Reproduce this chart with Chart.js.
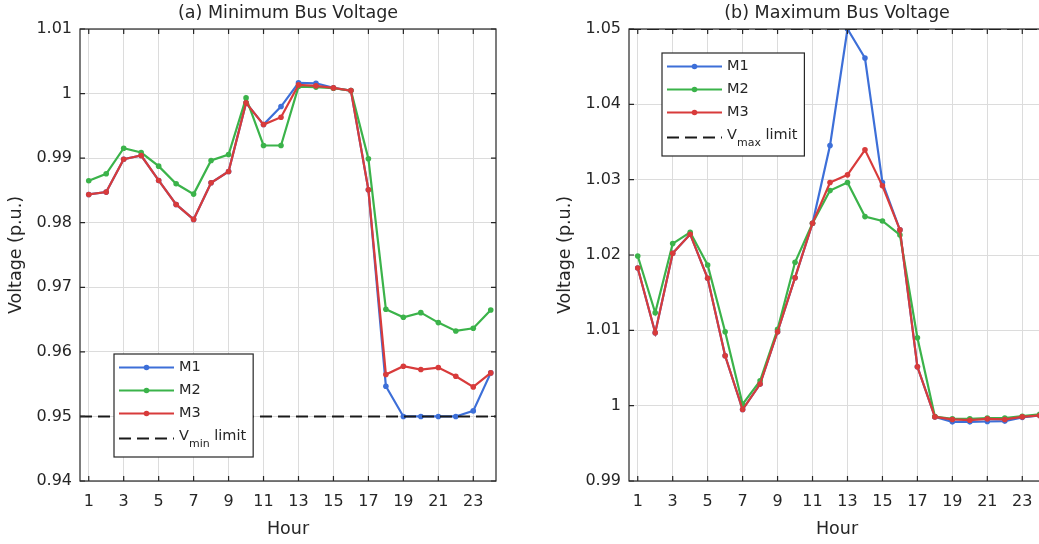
<!DOCTYPE html>
<html>
<head>
<meta charset="utf-8">
<title>Bus Voltage</title>
<script src="https://cdn.jsdelivr.net/npm/chart.js@4.4.1/dist/chart.umd.min.js"></script>
<style>
  html, body { margin: 0; padding: 0; background: #fff; overflow: hidden; }
  .panel { position: absolute; top: 0; width: 520px; height: 544px; }
  #panelA { left: 0; }
  #panelB { left: 549px; }
</style>
</head>
<body>
<div class="panel" id="panelA"><canvas id="chartA" width="520" height="544"></canvas></div>
<div class="panel" id="panelB"><canvas id="chartB" width="520" height="544"></canvas></div>
<script>
// hours of the day
const hours = [1, 2, 3, 4, 5, 6, 7, 8, 9, 10, 11, 12, 13, 14, 15, 16, 17, 18, 19, 20, 21, 22, 23, 24];
const hourTicks = [1, 3, 5, 7, 9, 11, 13, 15, 17, 19, 21, 23];
const hourRange = [0.5, 24.3];

// (a) minimum bus voltage, p.u.
const minM1 = [0.98438, 0.98474, 0.98984, 0.99041, 0.98654, 0.98283, 0.98051, 0.98619, 0.98793, 0.99856, 0.99520, 0.99799,
               1.00165, 1.00159, 1.00088, 1.00046, 0.98510, 0.95468, 0.95000, 0.95000, 0.95000, 0.95000, 0.95086, 0.95674];
const minM2 = [0.98650, 0.98758, 0.99154, 0.99087, 0.98876, 0.98603, 0.98443, 0.98964, 0.99056, 0.99933, 0.99196, 0.99196,
               1.00108, 1.00100, 1.00082, 1.00046, 0.98990, 0.96659, 0.96535, 0.96607, 0.96453, 0.96324, 0.96365, 0.96648];
const minM3 = [0.98438, 0.98474, 0.98984, 0.99041, 0.98654, 0.98283, 0.98051, 0.98619, 0.98793, 0.99856, 0.99520, 0.99634,
               1.00134, 1.00119, 1.00088, 1.00046, 0.98510, 0.95649, 0.95777, 0.95726, 0.95757, 0.95623, 0.95457, 0.95674];
const vMin = 0.95;
const minTicks = [0.94, 0.95, 0.96, 0.97, 0.98, 0.99, 1.00, 1.01];

// (b) maximum bus voltage, p.u.
const maxM1 = [1.01828, 1.00968, 1.02023, 1.02276, 1.01691, 1.00662, 0.99949, 1.00286, 1.00981, 1.01699, 1.02422, 1.03453,
               1.05000, 1.04615, 1.02962, 1.02333, 1.00516, 0.99851, 0.99785, 0.99785, 0.99790, 0.99795, 0.99845, 0.99870];
const maxM2 = [1.01987, 1.01234, 1.02151, 1.02302, 1.01868, 1.00981, 1.00020, 1.00330, 1.01013, 1.01903, 1.02422, 1.02855,
               1.02962, 1.02510, 1.02452, 1.02266, 1.00901, 0.99855, 0.99825, 0.99825, 0.99835, 0.99835, 0.99860, 0.99885];
const maxM3 = [1.01828, 1.00968, 1.02023, 1.02276, 1.01691, 1.00662, 0.99949, 1.00286, 1.00981, 1.01699, 1.02422, 1.02962,
               1.03064, 1.03396, 1.02918, 1.02333, 1.00516, 0.99851, 0.99817, 0.99807, 0.99825, 0.99817, 0.99851, 0.99870];
const vMax = 1.05;
const maxTicks = [0.99, 1.00, 1.01, 1.02, 1.03, 1.04, 1.05];

const seriesNames = ['M1', 'M2', 'M3'];
const seriesColors = ['#3d6fd8', '#3bb34a', '#d83b3b'];
const textColor = '#262626';
const axisColor = '#262626';
const gridColor = '#dcdcdc';
const fontFamily = '"DejaVu Sans", sans-serif';

const toPoints = vals => vals.map((v, i) => ({ x: hours[i], y: v }));

// box around the axes with inward ticks, like matlab "box on"
const frame = {
  id: 'frame',
  afterDatasetsDraw(chart) {
    const { ctx, chartArea: a, scales } = chart;
    const len = 5;
    ctx.save();
    ctx.strokeStyle = axisColor;
    ctx.lineWidth = 1.2;
    ctx.strokeRect(a.left, a.top, a.right - a.left, a.bottom - a.top);
    ctx.beginPath();
    scales.x.ticks.forEach(t => {
      const px = scales.x.getPixelForValue(t.value);
      ctx.moveTo(px, a.bottom); ctx.lineTo(px, a.bottom - len);
      ctx.moveTo(px, a.top); ctx.lineTo(px, a.top + len);
    });
    scales.y.ticks.forEach(t => {
      const py = scales.y.getPixelForValue(t.value);
      ctx.moveTo(a.left, py); ctx.lineTo(a.left + len, py);
      ctx.moveTo(a.right, py); ctx.lineTo(a.right - len, py);
    });
    ctx.stroke();
    ctx.restore();
  }
};

// legend box drawn inside the plot area
const boxLegend = {
  id: 'boxLegend',
  afterDraw(chart, args, opts) {
    const { ctx, chartArea: a } = chart;
    const x0 = a.left + opts.left;
    const y0 = a.top + opts.top;
    const rows = [13.5, 36.5, 59.5, 84.5];
    const mainFont = '14.5px ' + fontFamily;
    const subFont = '11px ' + fontFamily;

    ctx.save();
    // width from the longest label
    let widest = 0;
    chart.data.datasets.forEach(ds => {
      const m = ds.label.match(/^(\w)_(\w+)(.*)$/);
      ctx.font = mainFont;
      let w = ctx.measureText(m ? m[1] + m[3] : ds.label).width;
      if (m) { ctx.font = subFont; w += ctx.measureText(m[2]).width; }
      widest = Math.max(widest, w);
    });
    const boxW = 66 + widest + 6;
    const boxH = 103;
    ctx.fillStyle = '#fff';
    ctx.fillRect(x0, y0, boxW, boxH);
    ctx.strokeStyle = axisColor;
    ctx.lineWidth = 1.2;
    ctx.strokeRect(x0, y0, boxW, boxH);

    chart.data.datasets.forEach((ds, i) => {
      const y = y0 + rows[i];
      ctx.strokeStyle = ds.borderColor;
      ctx.lineWidth = ds.borderWidth;
      ctx.setLineDash(ds.borderDash || []);
      ctx.beginPath();
      ctx.moveTo(x0 + 5, y);
      ctx.lineTo(x0 + 60, y);
      ctx.stroke();
      ctx.setLineDash([]);
      if (ds.pointRadius > 0) {
        ctx.fillStyle = ds.borderColor;
        ctx.beginPath();
        ctx.arc(x0 + 32.5, y, ds.pointRadius, 0, Math.PI * 2);
        ctx.fill();
      }
      ctx.fillStyle = textColor;
      ctx.textBaseline = 'middle';
      ctx.textAlign = 'left';
      const m = ds.label.match(/^(\w)_(\w+)(.*)$/);
      ctx.font = mainFont;
      if (!m) {
        ctx.fillText(ds.label, x0 + 65, y);
        return;
      }
      let tx = x0 + 65;
      ctx.fillText(m[1], tx, y - 2);
      tx += ctx.measureText(m[1]).width;
      ctx.font = subFont;
      ctx.fillText(m[2], tx, y + 6);
      tx += ctx.measureText(m[2]).width;
      ctx.font = mainFont;
      ctx.fillText(m[3], tx, y - 2);
    });
    ctx.restore();
  }
};

function makeChart(id, title, series, limit, limitLabel, yTicks, legendPos) {
  const datasets = series.map((vals, i) => ({
    label: seriesNames[i],
    data: toPoints(vals),
    borderColor: seriesColors[i],
    backgroundColor: seriesColors[i],
    borderWidth: 2.2,
    pointRadius: 2.8,
    pointBorderWidth: 0,
    pointBackgroundColor: seriesColors[i],
    tension: 0,
    order: 4 - i
  }));
  datasets.push({
    label: limitLabel,
    data: [{ x: hourRange[0], y: limit }, { x: hourRange[1], y: limit }],
    borderColor: '#1a1a1a',
    borderWidth: 2,
    borderDash: [12, 6],
    pointRadius: 0,
    order: 0
  });

  const tickFont = { family: fontFamily, size: 16 };
  const labelFont = { family: fontFamily, size: 17.5 };

  return new Chart(document.getElementById(id), {
    type: 'line',
    data: { datasets },
    options: {
      responsive: false,
      animation: false,
      layout: { padding: { top: 0, right: 24, bottom: 0, left: 0 } },
      scales: {
        x: {
          type: 'linear',
          min: hourRange[0],
          max: hourRange[1],
          afterBuildTicks: s => { s.ticks = hourTicks.map(v => ({ value: v })); },
          afterFit: s => { s.height = 63; },
          grid: { color: gridColor, drawTicks: false },
          border: { display: false },
          ticks: { font: tickFont, color: textColor, padding: 11, maxRotation: 0, autoSkip: false, callback: v => String(v) },
          title: { display: true, text: 'Hour', font: labelFont, color: textColor, padding: { top: 0, bottom: 4 } }
        },
        y: {
          min: yTicks[0],
          max: yTicks[yTicks.length - 1],
          afterBuildTicks: s => { s.ticks = yTicks.map(v => ({ value: v })); },
          afterFit: s => { s.width = 80; },
          grid: { color: gridColor, drawTicks: false },
          border: { display: false },
          ticks: { font: tickFont, color: textColor, padding: 8, autoSkip: false, callback: v => String(+v.toFixed(2)) },
          title: { display: true, text: 'Voltage (p.u.)', font: labelFont, color: textColor, padding: { top: 6, bottom: 0 } }
        }
      },
      plugins: {
        legend: { display: false },
        tooltip: { enabled: false },
        title: {
          display: true,
          text: title,
          fullSize: false,
          font: { family: fontFamily, size: 17.5, weight: 'normal' },
          color: textColor,
          padding: { top: 3, bottom: 5 }
        },
        boxLegend: legendPos
      }
    },
    plugins: [frame, boxLegend]
  });
}

makeChart('chartA', '(a) Minimum Bus Voltage', [minM1, minM2, minM3], vMin, 'V_min limit', minTicks, { left: 34, top: 325 });
makeChart('chartB', '(b) Maximum Bus Voltage', [maxM1, maxM2, maxM3], vMax, 'V_max limit', maxTicks, { left: 33, top: 24 });
</script>
</body>
</html>
